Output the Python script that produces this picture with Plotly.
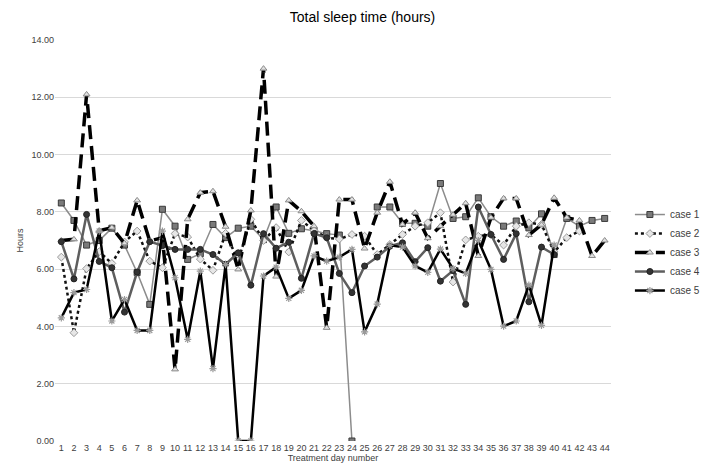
import plotly.graph_objects as go

days = list(range(1, 45))
day_labels = [str(d) for d in days]

case1 = [8.31, 7.70, 6.84, 7.00, 7.43, 6.84, 5.88, 4.77, 8.09, 7.50,
         6.34, 6.54, 7.56, 7.10, 7.43, 7.50, 7.03, 8.17, 7.25, 7.41,
         7.34, 7.24, 7.19, 0.00, None, 8.17, 8.17, 7.60, 7.60, 7.50,
         8.99, 7.77, 7.83, 8.49, 7.83, 7.50, 7.68, 7.44, 7.93, 6.51,
         7.77, 7.50, 7.70, 7.77]
case2 = [6.42, 3.78, 6.02, 6.61, 6.20, 6.95, 7.33, 6.28, 6.05, 7.24,
         7.12, 6.35, 5.96, 7.25, 6.30, 7.74, 7.00, 7.45, 6.60, 7.70,
         7.35, 7.10, 7.05, 7.21, 7.15, 6.51, 6.86, 7.21, 7.50, 7.62,
         7.97, 5.55, 7.02, 7.15, 7.20, 6.84, 7.50, 7.62, 7.56, 6.60,
         7.10, 7.33, None, None]
case3 = [7.00, 7.04, 12.10, 7.34, 7.45, 6.90, 8.40, 6.98, 7.10, 2.50,
         7.74, 8.67, 8.72, 7.48, 5.99, 8.05, 13.00, 5.74, 8.40, 8.02,
         7.50, 3.95, 8.43, 8.43, 6.72, 7.97, 9.05, 7.56, 7.97, 7.08,
         7.50, 7.90, 8.30, 6.46, 7.80, 8.47, 8.47, 7.19, 7.55, 8.49,
         7.80, 7.70, 6.46, 7.00]
case4 = [6.96, 5.66, 7.91, 6.27, 6.05, 4.50, 5.90, 6.96, 6.82, 6.69,
         6.69, 6.69, 6.51, 6.17, 6.57, 5.44, 7.24, 6.73, 6.94, 5.68,
         7.24, 7.10, 5.85, 5.18, 6.11, 6.42, 6.80, 6.92, 6.26, 6.75,
         5.58, 5.95, 4.77, 8.17, 7.21, 6.34, 7.24, 4.86, 6.77, 6.51,
         None, None, None, None]
case5 = [4.30, 5.18, 5.29, 7.33, 4.19, 4.94, 3.86, 3.86, 7.33, 5.70,
         3.55, 5.93, 2.53, 6.16, 0.00, 0.00, 5.76, 6.07, 4.98, 5.26,
         6.46, 6.28, 6.42, 6.69, 3.81, 4.78, 6.83, 6.77, 6.11, 5.89,
         6.70, 6.02, 5.85, 7.00, 5.99, 4.01, 4.19, 5.44, 4.04, 6.84,
         None, None, None, None]

y_ticks = [0, 2, 4, 6, 8, 10, 12, 14]
y_tick_labels = ["0.00", "2.00", "4.00", "6.00", "8.00", "10.00", "12.00", "14.00"]

fig = go.Figure()

fig.add_trace(go.Scatter(
    x=days, y=case1, name="case 1", mode="lines+markers",
    line=dict(color="#8c8c8c", width=1.5),
    marker=dict(symbol="square", size=6, color="#7a7a7a",
                line=dict(color="#3a3a3a", width=1)),
))
fig.add_trace(go.Scatter(
    x=days, y=case2, name="case 2", mode="lines+markers",
    line=dict(color="#111111", width=2.5, dash="3px,3px"),
    marker=dict(symbol="diamond", size=6, color="#e6e6e6",
                line=dict(color="#9a9a9a", width=1)),
))
fig.add_trace(go.Scatter(
    x=days, y=case3, name="case 3", mode="lines+markers",
    line=dict(color="#000000", width=3.5, dash="14px,7px"),
    marker=dict(symbol="triangle-up", size=6, color="#e0e0e0",
                line=dict(color="#8a8a8a", width=1)),
))
fig.add_trace(go.Scatter(
    x=days, y=case4, name="case 4", mode="lines+markers",
    line=dict(color="#5e5e5e", width=2.5),
    marker=dict(symbol="circle", size=6, color="#333333",
                line=dict(color="#222222", width=1)),
))
fig.add_trace(go.Scatter(
    x=days, y=case5, name="case 5", mode="lines+markers",
    line=dict(color="#000000", width=2.5),
    marker=dict(symbol="asterisk", size=6, color="#9a9a9a",
                line=dict(color="#9a9a9a", width=1.2)),
))

fig.update_layout(
    width=709, height=468,
    paper_bgcolor="white", plot_bgcolor="white",
    margin=dict(l=47, r=84, t=32, b=35),
    font=dict(family="Liberation Sans, Arial, sans-serif", color="#404040", size=9),
    title=dict(text="Total sleep time (hours)", x=0.5, xanchor="center",
               y=0.98, yanchor="middle",
               font=dict(size=14, color="#000000", family="Liberation Sans, Arial, sans-serif")),
    showlegend=True,
    legend=dict(x=1.034, y=0.47, xanchor="left", yanchor="middle",
                font=dict(size=10, color="#404040"),
                bgcolor="rgba(0,0,0,0)", tracegroupgap=0),
)

fig.update_xaxes(
    range=[0.5, 44.5], tickmode="array", tickvals=days, ticktext=day_labels,
    showgrid=False, zeroline=False, showline=False, ticks="",
    tickfont=dict(size=9, color="#404040"),
    title=dict(text="Treatment day number", font=dict(size=9, color="#404040"), standoff=2),
)
fig.update_yaxes(
    range=[0, 14], tickmode="array", tickvals=y_ticks, ticktext=y_tick_labels,
    showgrid=True, gridcolor="#d9d9d9", gridwidth=1, zeroline=False,
    showline=False, ticks="",
    tickfont=dict(size=9, color="#404040"),
    title=dict(text="Hours", font=dict(size=9, color="#404040"), standoff=6),
)

fig.write_html("out.html")
